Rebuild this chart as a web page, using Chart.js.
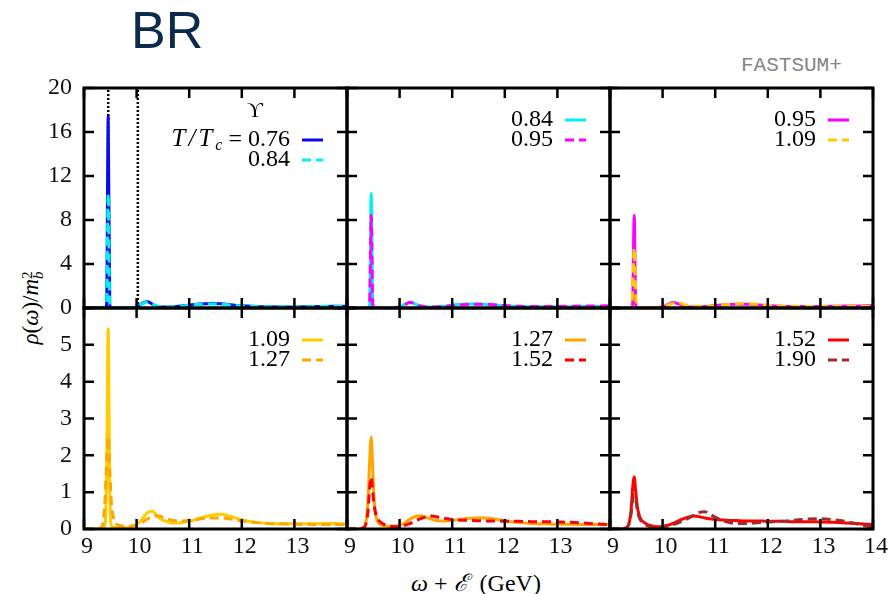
<!DOCTYPE html>
<html>
<head>
<meta charset="utf-8">
<script src="https://cdn.jsdelivr.net/npm/chart.js@4.4.1/dist/chart.umd.min.js"></script>
<style>
  html, body { margin: 0; padding: 0; background: #fff; }
  #page { position: relative; width: 889px; height: 594px; overflow: hidden; background: #fff; }
  #page canvas { position: absolute; left: 0; top: 0; }
  .txt { position: absolute; white-space: nowrap; line-height: 1; }
  #title { left: 131px; top: 0px; font: 52px "Liberation Sans", Arial, sans-serif; color: #0c2a4c; }
  #collab { left: 741px; top: 54px; font: 21px "Liberation Mono", "DejaVu Sans Mono", monospace; color: #858585; }
  #ytitle { left: -71px; top: 297px; width: 200px; height: 22px; text-align: center;
            font: 23px "Liberation Serif", "DejaVu Serif", serif; transform: rotate(-90deg); }
  #xtitle { left: 376px; top: 565px; width: 200px; text-align: center;
            font: 24px "Liberation Serif", "DejaVu Serif", serif; }
  .it { font-style: italic; }
  .ss { display: inline-block; vertical-align: -5px; line-height: 11px; font-size: 15px; text-align: left; }
  .ss span { display: block; }
</style>
</head>
<body>
<div id="page">
  <div id="title" class="txt">BR</div>
  <div id="collab" class="txt">FASTSUM+</div>
  <div id="ytitle" class="txt"><span class="it">ρ</span>(<span class="it">ω</span>)/<span class="it">m</span><span class="ss"><span>2</span><span class="it">b</span></span></div>
  <div id="xtitle" class="txt"><span class="it">ω</span> + <span class="it">ℰ</span>&nbsp; (GeV)</div>
</div>
<script>
// Energy grid ω + ℰ in GeV (denser around the ground-state peak)
const energyGeV = [9.0, 9.2, 9.3, 9.35, 9.4, 9.43, 9.46, 9.49, 9.52, 9.56, 9.6, 9.7, 9.8, 9.9,
                   10.0, 10.1, 10.2, 10.3, 10.4, 10.5, 10.6, 10.7, 10.8, 10.9, 11.0, 11.2, 11.4,
                   11.6, 11.8, 12.0, 12.25, 12.5, 12.75, 13.0, 13.25, 13.5, 13.75, 14.0];

// Spectral functions ρ(ω)/m_b² for each temperature T/Tc
const rho076 = [0, 0, 0, 0, 0, 0.3, 17.4, 0.3, 0, 0, 0, 0, 0, 0.02, 0.1, 0.4, 0.6, 0.35, 0.15, 0.1,
                0.1, 0.12, 0.15, 0.2, 0.27, 0.37, 0.42, 0.38, 0.29, 0.2, 0.14, 0.11, 0.1, 0.1, 0.12, 0.14, 0.15, 0.15];
const rho084 = [0, 0, 0, 0, 0, 0.2, 10.4, 0.2, 0, 0, 0, 0, 0, 0.02, 0.1, 0.35, 0.55, 0.35, 0.15, 0.1,
                0.1, 0.12, 0.15, 0.19, 0.25, 0.33, 0.36, 0.34, 0.27, 0.2, 0.15, 0.12, 0.11, 0.11, 0.12, 0.13, 0.14, 0.15];
const rho095 = [0, 0, 0, 0, 0.02, 0.3, 8.4, 0.3, 0.02, 0, 0, 0, 0.01, 0.03, 0.1, 0.3, 0.5, 0.38, 0.18, 0.1,
                0.08, 0.1, 0.13, 0.17, 0.22, 0.3, 0.35, 0.35, 0.29, 0.22, 0.16, 0.13, 0.13, 0.14, 0.16, 0.18, 0.19, 0.2];
const rho109 = [0, 0, 0, 0, 0.1, 1.5, 5.43, 1.0, 0.1, 0.05, 0.04, 0.03, 0.04, 0.07, 0.12, 0.25, 0.44, 0.48, 0.33, 0.24,
                0.19, 0.16, 0.16, 0.18, 0.21, 0.29, 0.37, 0.4, 0.34, 0.25, 0.18, 0.15, 0.14, 0.14, 0.14, 0.15, 0.15, 0.14];
const rho127 = [0, 0, 0.02, 0.1, 0.8, 1.8, 2.5, 1.6, 0.7, 0.3, 0.16, 0.09, 0.07, 0.08, 0.1, 0.17, 0.27, 0.34, 0.36, 0.32,
                0.27, 0.23, 0.22, 0.22, 0.24, 0.27, 0.3, 0.3, 0.27, 0.22, 0.18, 0.15, 0.14, 0.13, 0.13, 0.12, 0.12, 0.12];
const rho152 = [0, 0, 0.03, 0.1, 0.5, 1.1, 1.41, 1.0, 0.6, 0.35, 0.24, 0.13, 0.08, 0.06, 0.07, 0.1, 0.15, 0.22, 0.28, 0.33,
                0.35, 0.33, 0.3, 0.28, 0.26, 0.24, 0.23, 0.22, 0.22, 0.21, 0.21, 0.2, 0.2, 0.19, 0.18, 0.16, 0.14, 0.12];
const rho190 = [0, 0, 0.02, 0.1, 0.4, 0.8, 0.92, 0.8, 0.5, 0.3, 0.2, 0.1, 0.06, 0.05, 0.06, 0.08, 0.12, 0.17, 0.23, 0.3,
                0.38, 0.45, 0.47, 0.4, 0.32, 0.2, 0.15, 0.15, 0.17, 0.19, 0.21, 0.24, 0.27, 0.28, 0.25, 0.2, 0.12, 0.05];

const tempLabels = ['0.76', '0.84', '0.95', '1.09', '1.27', '1.52', '1.90'];
const tempSeries = [rho076, rho084, rho095, rho109, rho127, rho152, rho190];
const tempColors = ['#0a0af2', '#00f0f0', '#ff00ff', '#ffcc00', '#ffa500', '#ff0000', '#a52a2a'];

// Each panel compares two neighbouring temperatures (solid, dashed)
const panelPairs = [[0, 1], [1, 2], [2, 3], [3, 4], [4, 5], [5, 6]];

// Υ(1S) and Υ(2S) masses, GeV
const upsilonMassesGeV = [9.46, 10.023];

// Axis ranges and ticks
const xRange = [9, 14];
const yRangeTop = [0, 20];
const yRangeBottom = [0, 6];
const yStepTop = 4;
const yStepBottom = 1;

// ---- layout of the 3x2 grid of plot frames (pixels) ----
const colEdges = [84, 347, 610, 873];
const rowEdges = [88, 308, 529];
const W = 889, H = 594;
const yAxisBox = 80;   // room for y tick labels left of each frame
const xAxisBox = 60;   // room for x tick labels below each frame
const serif = '"Liberation Serif", "DejaVu Serif", serif';

Chart.defaults.font.family = serif;
Chart.defaults.font.size = 24;
Chart.defaults.color = '#111';

// inward tick marks on all four sides plus the frame
const frameTicks = {
  id: 'frameTicks',
  afterDatasetsDraw(chart) {
    const { ctx, chartArea: a, scales: { x, y } } = chart;
    const L = 10;
    ctx.save();
    ctx.strokeStyle = '#000';
    ctx.lineWidth = 2.5;
    ctx.beginPath();
    x.ticks.forEach(t => {
      const px = x.getPixelForValue(t.value);
      ctx.moveTo(px, a.bottom); ctx.lineTo(px, a.bottom - L);
      ctx.moveTo(px, a.top); ctx.lineTo(px, a.top + L);
    });
    y.ticks.forEach(t => {
      const py = y.getPixelForValue(t.value);
      ctx.moveTo(a.left, py); ctx.lineTo(a.left + L, py);
      ctx.moveTo(a.right, py); ctx.lineTo(a.right - L, py);
    });
    ctx.stroke();
    ctx.lineWidth = 3;
    ctx.strokeRect(a.left, a.top, a.right - a.left, a.bottom - a.top);
    ctx.restore();
  }
};

// key in the upper right of each frame: value text, then a line sample
const pairLegend = {
  id: 'pairLegend',
  afterDraw(chart, args, opts) {
    const { ctx, chartArea: a } = chart;
    const items = chart.data.datasets.filter(d => d.legendText);
    const xr = a.right - 57;
    const y0 = a.top + 38 + (opts.header ? 20 : 0);
    ctx.save();
    ctx.textBaseline = 'alphabetic';
    ctx.fillStyle = '#000';
    if (opts.header) {
      ctx.font = '22px ' + serif;
      ctx.textAlign = 'center';
      ctx.fillText('ϒ', a.right - 92, a.top + 29);
    }
    items.forEach((d, i) => {
      const yb = y0 + i * 20;
      ctx.font = '24px ' + serif;
      ctx.textAlign = 'right';
      ctx.fillText(d.legendText, xr, yb);
      if (i === 0 && opts.header) {
        const w = ctx.measureText(d.legendText).width;
        const eqRight = xr - w - 6;
        ctx.fillText('=', eqRight, yb);
        const cRight = eqRight - ctx.measureText('=').width - 6;
        ctx.font = 'italic 16px ' + serif;
        ctx.fillText('c', cRight, yb + 4);
        const cw = ctx.measureText('c').width;
        ctx.font = 'italic 25px ' + serif;
        ctx.letterSpacing = '3px';
        ctx.fillText('T/T', cRight - cw, yb);
        ctx.letterSpacing = '0px';
      }
      ctx.strokeStyle = d.borderColor;
      ctx.lineWidth = 3;
      ctx.setLineDash(d.borderDash || []);
      ctx.beginPath();
      ctx.moveTo(a.right - 45, yb - 6);
      ctx.lineTo(a.right - 24, yb - 6);
      ctx.stroke();
      ctx.setLineDash([]);
    });
    ctx.restore();
  }
};

function seriesPoints(values) {
  return energyGeV.map((e, i) => ({ x: e, y: values[i] }));
}

function makePanel(index) {
  const col = index % 3, row = Math.floor(index / 3);
  const [iSolid, iDashed] = panelPairs[index];
  const yRange = row === 0 ? yRangeTop : yRangeBottom;
  const yStep = row === 0 ? yStepTop : yStepBottom;

  const datasets = [
    {
      data: seriesPoints(tempSeries[iSolid]), legendText: tempLabels[iSolid],
      borderColor: tempColors[iSolid], order: 1
    },
    {
      data: seriesPoints(tempSeries[iDashed]), legendText: tempLabels[iDashed],
      borderColor: tempColors[iDashed], borderDash: [9, 5], order: 0
    }
  ];
  if (index === 0) {
    upsilonMassesGeV.forEach(m => datasets.push({
      data: [{ x: m, y: yRange[0] }, { x: m, y: yRange[1] }],
      borderColor: '#000', borderWidth: 2.5, borderDash: [2, 2], order: 5,
      cubicInterpolationMode: 'default', tension: 0
    }));
  }

  const cv = document.createElement('canvas');
  cv.width = W; cv.height = H;
  document.getElementById('page').appendChild(cv);

  const showX = row === 1;
  const showY = col === 0;
  const lastCol = col === 2;
  const tickFont = { family: serif, size: 24, style: 'normal', weight: 'normal' };

  return new Chart(cv, {
    type: 'line',
    data: { datasets },
    options: {
      responsive: false,
      animation: false,
      devicePixelRatio: 1,
      events: [],
      layout: {
        padding: {
          left: colEdges[col] - yAxisBox, right: W - colEdges[col + 1],
          top: rowEdges[row], bottom: H - rowEdges[row + 1] - xAxisBox
        }
      },
      elements: {
        point: { radius: 0 },
        line: { borderWidth: 3, cubicInterpolationMode: 'monotone', fill: false }
      },
      plugins: {
        legend: { display: false },
        tooltip: { enabled: false },
        pairLegend: { header: index === 0 }
      },
      scales: {
        x: {
          type: 'linear', min: xRange[0], max: xRange[1],
          afterFit: s => { s.height = xAxisBox; },
          grid: { display: false, drawTicks: false },
          border: { display: false },
          ticks: {
            display: showX, stepSize: 1, padding: 3, labelOffset: 3,
            maxRotation: 0, autoSkip: false, color: '#111', font: tickFont,
            callback: v => (!lastCol && v === xRange[1]) ? '' : String(v)
          }
        },
        y: {
          type: 'linear', min: yRange[0], max: yRange[1],
          afterFit: s => { s.width = yAxisBox; },
          grid: { display: false, drawTicks: false },
          border: { display: false },
          ticks: {
            display: showY, stepSize: yStep, padding: 12, color: '#111', font: tickFont,
            callback: v => (row === 1 && v === yRange[1]) ? '' : String(v)
          }
        }
      }
    },
    plugins: [frameTicks, pairLegend]
  });
}

for (let i = 0; i < 6; i++) makePanel(i);
</script>
</body>
</html>
